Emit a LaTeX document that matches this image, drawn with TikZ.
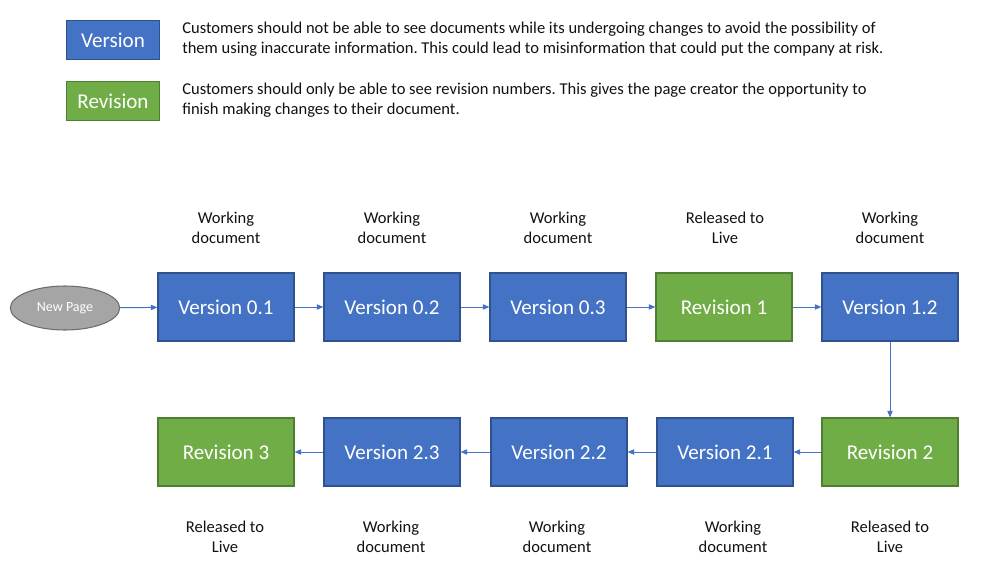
\documentclass[tikz,border=0pt]{standalone}
\usepackage{fontspec}
\setmainfont{Carlito}
\usepackage{xcolor}
\usetikzlibrary{arrows.meta, positioning, shapes.geometric}
\definecolor{verfill}{HTML}{4472C4}
\definecolor{verline}{HTML}{2F528F}
\definecolor{revfill}{HTML}{70AD47}
\definecolor{revline}{HTML}{507E32}
\definecolor{pagefill}{HTML}{A5A5A5}
\definecolor{pageline}{HTML}{6E6E6E}
\definecolor{ink}{HTML}{111111}
\frenchspacing
\tikzset{
  font=\fontsize{12.4}{15}\selectfont,
  >={Triangle[length=5pt, width=4pt]},
  %
  box/.style={
    draw, line width=0.8pt, text=white, minimum width=102pt,
    minimum height=51pt, inner sep=2pt, font=\fontsize{15.8}{18}\selectfont,
  },
  boxv/.style={box, draw=verline, fill=verfill},
  boxr/.style={box, draw=revline, fill=revfill},
  keyv/.style={boxv, minimum width=70pt, minimum height=29pt},
  keyr/.style={boxr, minimum width=70pt, minimum height=29pt},
  %
  start/.style={ellipse, draw=pageline, line width=0.8pt, fill=pagefill,
                text=white, minimum width=82pt, minimum height=33pt,
                inner sep=0pt, font=\fontsize{10.5}{12}\selectfont},
  %
  flow/.style={draw=verfill, line width=0.75pt, ->},
  lbl/.style={text=ink, align=center, inner sep=0pt},
  note/.style={text=ink, align=left, anchor=west, inner sep=0pt},
}
\begin{document}
\begin{tikzpicture}[x=0.75pt, y=-0.75pt]
  \useasboundingbox (0,0) rectangle (999,585);

  % key
  \node[keyv] (keyver) at (113,40) {Version};
  \node[keyr] (keyrev) at (113,101) {Revision};
  \node[note] (notever) at (182,39)
    {Customers should not be able to see documents while its undergoing changes to avoid the possibility of\\
     them using inaccurate information. This could lead to misinformation that could put the company at risk.};
  \node[note] (noterev) at (182,100)
    {Customers should only be able to see revision numbers. This gives the page creator the opportunity to\\
     finish making changes to their document.};

  % top row
  \node[start] (newpage) at (65,308) {New Page};
  \node[boxv] (v01) at (226,307) {Version 0.1};
  \node[boxv] (v02) at (392,307) {Version 0.2};
  \node[boxv] (v03) at (558,307) {Version 0.3};
  \node[boxr] (r1)  at (724,307) {Revision 1};
  \node[boxv] (v12) at (890,307) {Version 1.2};

  % bottom row
  \node[boxr] (r2)  at (890,452) {Revision 2};
  \node[boxv] (v21) at (725,452) {Version 2.1};
  \node[boxv] (v22) at (559,452) {Version 2.2};
  \node[boxv] (v23) at (392,452) {Version 2.3};
  \node[boxr] (r3)  at (226,452) {Revision 3};

  \draw[flow] (newpage) -- (v01);
  \draw[flow] (v01) -- (v02);
  \draw[flow] (v02) -- (v03);
  \draw[flow] (v03) -- (r1);
  \draw[flow] (r1) -- (v12);
  \draw[flow] (v12) -- (r2);
  \draw[flow] (r2) -- (v21);
  \draw[flow] (v21) -- (v22);
  \draw[flow] (v22) -- (v23);
  \draw[flow] (v23) -- (r3);

  % captions
  \node[lbl] (cap01) at (226,228) {Working\\document};
  \node[lbl] (cap02) at (392,228) {Working\\document};
  \node[lbl] (cap03) at (558,228) {Working\\document};
  \node[lbl] (capr1) at (725,228) {Released to\\Live};
  \node[lbl] (cap12) at (890,228) {Working\\document};
  \node[lbl] (capr2) at (890,537) {Released to\\Live};
  \node[lbl] (cap21) at (733,537) {Working\\document};
  \node[lbl] (cap22) at (557,537) {Working\\document};
  \node[lbl] (cap23) at (391,537) {Working\\document};
  \node[lbl] (capr3) at (225,537) {Released to\\Live};

\end{tikzpicture}
\end{document}
